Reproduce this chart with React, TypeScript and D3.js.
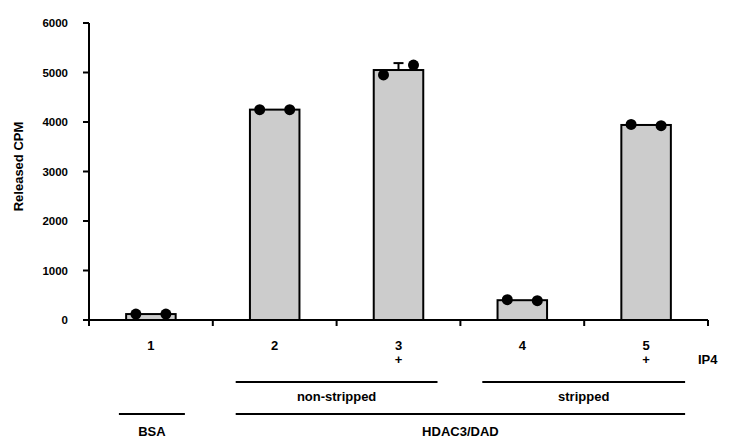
import { useEffect, useRef } from "react";
import * as d3 from "d3";

const categories = ["1", "2", "3", "4", "5"];
const means = [120, 4250, 5050, 400, 3940];
const pointsA = [120, 4250, 4950, 410, 3950];
const pointsB = [120, 4250, 5150, 390, 3925];
const errors = [0, 0, 140, 0, 0];
const ip4Marks = ["", "", "+", "", "+"];
const yTicks = [0, 1000, 2000, 3000, 4000, 5000, 6000];

const font = "'Liberation Sans', Arial, sans-serif";

export default function App() {
  const svgRef = useRef<SVGSVGElement>(null);

  useEffect(() => {
    const svg = d3.select(svgRef.current);
    svg.selectAll("*").remove();

    const width = 729;
    const height = 440;
    const margin = { top: 23, left: 89, right: 21, bottom: 120 };
    const chartW = width - margin.left - margin.right;
    const chartH = height - margin.top - margin.bottom;

    const g = svg.append("g").attr("transform", `translate(${margin.left},${margin.top})`);

    const x = d3.scaleBand().domain(categories).range([0, chartW]).paddingInner(0.6).paddingOuter(0.3);
    const xEdge = d3.scaleLinear().domain([0, categories.length]).range([0, chartW]);
    const y = d3.scaleLinear().domain([0, 6000]).range([chartH, 0]);

    // bars
    g.selectAll(".bar")
      .data(categories)
      .enter()
      .append("rect")
      .attr("x", (d) => x(d)!)
      .attr("y", (_, i) => y(means[i]))
      .attr("width", x.bandwidth())
      .attr("height", (_, i) => chartH - y(means[i]))
      .attr("fill", "#cccccc")
      .attr("stroke", "#000")
      .attr("stroke-width", 2);

    // error bars (only where there is a spread)
    categories.forEach((c, i) => {
      if (!errors[i]) return;
      const cx = x(c)! + x.bandwidth() / 2;
      g.append("line")
        .attr("x1", cx).attr("x2", cx)
        .attr("y1", y(means[i])).attr("y2", y(means[i] + errors[i]))
        .attr("stroke", "#000").attr("stroke-width", 2);
      g.append("line")
        .attr("x1", cx - 5).attr("x2", cx + 5)
        .attr("y1", y(means[i] + errors[i])).attr("y2", y(means[i] + errors[i]))
        .attr("stroke", "#000").attr("stroke-width", 2);
    });

    // replicate points
    const off = 15;
    categories.forEach((c, i) => {
      const cx = x(c)! + x.bandwidth() / 2;
      [[pointsA[i], -off], [pointsB[i], off]].forEach(([v, o]) => {
        g.append("circle").attr("cx", cx + o).attr("cy", y(v)).attr("r", 5.5).attr("fill", "#000");
      });
    });

    // y axis
    g.append("line")
      .attr("x1", 0).attr("x2", 0).attr("y1", 0).attr("y2", chartH + 6)
      .attr("stroke", "#000").attr("stroke-width", 2);
    yTicks.forEach((t) => {
      g.append("line")
        .attr("x1", -6).attr("x2", 0).attr("y1", y(t)).attr("y2", y(t))
        .attr("stroke", "#000").attr("stroke-width", 2);
      g.append("text")
        .attr("x", -21).attr("y", y(t)).attr("dy", "0.36em")
        .attr("text-anchor", "end")
        .attr("font-family", font).attr("font-weight", "bold").attr("font-size", 11.5)
        .text(t);
    });

    // x axis
    g.append("line")
      .attr("x1", -6).attr("x2", chartW).attr("y1", chartH).attr("y2", chartH)
      .attr("stroke", "#000").attr("stroke-width", 2);
    d3.range(1, categories.length + 1).forEach((k) => {
      g.append("line")
        .attr("x1", xEdge(k)).attr("x2", xEdge(k)).attr("y1", chartH).attr("y2", chartH + 6)
        .attr("stroke", "#000").attr("stroke-width", 2);
    });

    const txt = (px: number, py: number, s: string, anchor = "middle") =>
      g.append("text")
        .attr("x", px).attr("y", py)
        .attr("text-anchor", anchor)
        .attr("font-family", font).attr("font-weight", "bold").attr("font-size", 13)
        .text(s);

    categories.forEach((c, i) => {
      const cx = x(c)! + x.bandwidth() / 2;
      txt(cx, chartH + 30, c);
      if (ip4Marks[i]) txt(cx, chartH + 44, ip4Marks[i]);
    });
    txt(xEdge(categories.length) - 10, chartH + 44, "IP4", "start");

    // group lines
    const cxOf = (i: number) => x(categories[i])! + x.bandwidth() / 2;
    const groupLine = (x1: number, x2: number, ly: number, dy: number, label: string) => {
      g.append("line")
        .attr("x1", x1).attr("x2", x2).attr("y1", ly).attr("y2", ly)
        .attr("stroke", "#000").attr("stroke-width", 2);
      txt((x1 + x2) / 2, ly + dy, label);
    };
    groupLine(cxOf(1) - 39, cxOf(2) + 39, chartH + 62, 19, "non-stripped");
    groupLine(cxOf(3) - 40, cxOf(4) + 39, chartH + 62, 19, "stripped");
    groupLine(cxOf(0) - 32, cxOf(0) + 34, chartH + 94, 22, "BSA");
    groupLine(cxOf(1) - 39, cxOf(4) + 39, chartH + 94, 22, "HDAC3/DAD");

    // y label
    svg.append("text")
      .attr("transform", `translate(23,${margin.top + chartH / 2 - 5}) rotate(-90)`)
      .attr("text-anchor", "middle")
      .attr("font-family", font).attr("font-weight", "bold").attr("font-size", 13)
      .text("Released CPM");
  }, []);

  return (
    <div style={{ position: "absolute", left: 0, top: 0 }}>
      <svg ref={svgRef} width={729} height={440} />
    </div>
  );
}
